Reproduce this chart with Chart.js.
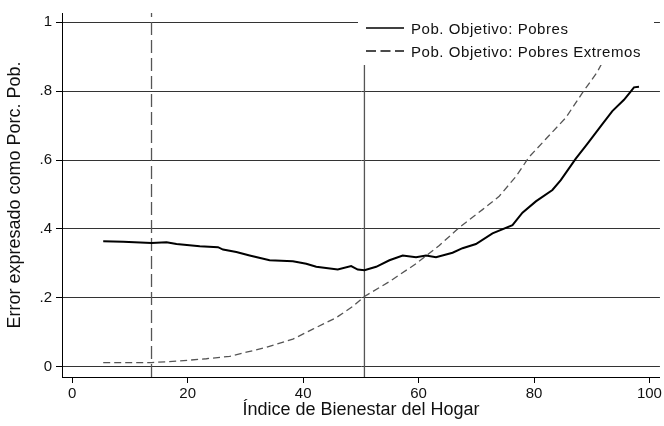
<!DOCTYPE html>
<html>
<head>
<meta charset="utf-8">
<script src="https://cdn.jsdelivr.net/npm/chart.js@4/dist/chart.umd.min.js"></script>
<style>
  html, body { margin: 0; padding: 0; background: #fff; }
  #wrap { width: 664px; height: 426px; }
</style>
</head>
<body>
<div id="wrap"><canvas id="c" width="664" height="426"></canvas></div>
<script>
// ---- Data ----
const seriesLabels = ['Pob. Objetivo: Pobres', 'Pob. Objetivo: Pobres Extremos'];
const xTitle = 'Índice de Bienestar del Hogar';
const yTitle = 'Error expresado como Porc. Pob.';

const pobresX = [5.36, 8.82, 13.73, 16.33, 18.06, 22.09, 25.25, 26.12, 28.43, 30.73, 34.19, 38.22, 40.54, 42.27, 46.00, 48.32, 49.46, 50.62, 52.65, 54.95, 57.25, 59.56, 61.29, 63.02, 65.89, 67.62, 69.94, 72.81, 76.27, 78.00, 80.32, 83.19, 84.64, 87.24, 89.24, 91.84, 93.57, 95.59, 96.75, 97.32, 98.19];
const pobresY = [0.364, 0.363, 0.359, 0.361, 0.356, 0.350, 0.347, 0.340, 0.333, 0.323, 0.309, 0.306, 0.299, 0.290, 0.282, 0.292, 0.282, 0.280, 0.290, 0.309, 0.323, 0.318, 0.323, 0.318, 0.331, 0.344, 0.356, 0.387, 0.411, 0.447, 0.480, 0.513, 0.542, 0.604, 0.647, 0.704, 0.742, 0.775, 0.799, 0.811, 0.813];

const extremosX = [5.36, 13.73, 18.06, 23.24, 27.27, 30.16, 33.62, 38.22, 41.68, 45.71, 48.60, 50.62, 54.95, 59.56, 63.59, 67.05, 71.08, 73.97, 76.86, 79.16, 82.05, 85.51, 88.38, 90.97, 93.0, 95.0];
const extremosY = [0.012, 0.012, 0.016, 0.023, 0.030, 0.042, 0.056, 0.080, 0.109, 0.142, 0.175, 0.204, 0.247, 0.299, 0.352, 0.404, 0.456, 0.495, 0.552, 0.609, 0.661, 0.723, 0.795, 0.856, 0.92, 0.98];

const refDashedX = [13.73];   // vertical dashed reference line
const refSolidX = [50.62];    // vertical solid reference line

const xTicks = [0, 20, 40, 60, 80, 100];
const yTicks = [0, 0.2, 0.4, 0.6, 0.8, 1];
const yTickLabels = ['0', '.2', '.4', '.6', '.8', '1'];

const xMin = -1.78, xMax = 101.82;
const yMin = -0.030, yMax = 1.027;

// ---- Build ----
const zip = (xs, ys) => xs.map((x, i) => ({ x: x, y: ys[i] }));
const vline = (x) => [{ x: x, y: yMin }, { x: x, y: yMax }];

const FONT = "'Liberation Sans', Arial, Helvetica, sans-serif";

const legendBox = {
  id: 'legendBox',
  afterDatasetsDraw(chart) {
    const ctx = chart.ctx;
    ctx.save();
    ctx.fillStyle = '#fff';
    ctx.fillRect(358, 11, 296, 54);
    const items = chart.data.datasets.filter(d => d.inLegend);
    items.forEach((d, i) => {
      const y = 28 + i * 23;
      ctx.beginPath();
      ctx.strokeStyle = d.legendColor;
      ctx.lineWidth = 1.4;
      ctx.setLineDash(d.legendDash || []);
      ctx.moveTo(366, y);
      ctx.lineTo(404, y);
      ctx.stroke();
      ctx.setLineDash([]);
      ctx.fillStyle = '#111';
      ctx.font = '15px ' + FONT;
      if ('letterSpacing' in ctx) ctx.letterSpacing = '0.55px';
      ctx.textAlign = 'left';
      ctx.textBaseline = 'alphabetic';
      ctx.fillText(d.label, 411, y + 6);
    });
    ctx.restore();
  }
};

new Chart(document.getElementById('c'), {
  type: 'line',
  data: {
    datasets: [
      {
        label: seriesLabels[0], inLegend: true, legendColor: '#000', legendDash: [],
        data: zip(pobresX, pobresY),
        borderColor: '#000', borderWidth: 2, pointRadius: 0, tension: 0, fill: false
      },
      {
        label: seriesLabels[1], inLegend: true, legendColor: '#111', legendDash: [10, 4.5],
        data: zip(extremosX, extremosY),
        borderColor: '#555', borderWidth: 1.3, borderDash: [7, 4], pointRadius: 0, tension: 0, fill: false
      },
      {
        label: 'refDashed', data: vline(refDashedX[0]),
        borderColor: '#555', borderWidth: 1.3, borderDash: [13, 5], pointRadius: 0, fill: false
      },
      {
        label: 'refSolid', data: vline(refSolidX[0]),
        borderColor: '#555', borderWidth: 1.3, pointRadius: 0, fill: false
      }
    ]
  },
  options: {
    responsive: false,
    animation: false,
    layout: { padding: { top: 7, right: 3, left: 0, bottom: 0 } },
    plugins: { legend: { display: false }, tooltip: { enabled: false } },
    scales: {
      x: {
        type: 'linear', min: xMin, max: xMax,
        afterBuildTicks: (s) => { s.ticks = xTicks.map(v => ({ value: v })); },
        afterFit: (s) => { s.height = 49; },
        grid: { drawOnChartArea: false, drawTicks: true, tickLength: 6, tickColor: '#000', tickWidth: 1 },
        border: { display: true, color: '#000', width: 1 },
        ticks: { color: '#111', font: { family: FONT, size: 15 }, padding: 2, maxRotation: 0, autoSkip: false,
                 callback: (v) => String(v) },
        title: { display: true, text: xTitle, color: '#111', font: { family: FONT, size: 18 }, padding: { top: 0, bottom: 5 } }
      },
      y: {
        type: 'linear', min: yMin, max: yMax,
        afterBuildTicks: (s) => { s.ticks = yTicks.map(v => ({ value: v })); },
        afterFit: (s) => { s.width = 62; },
        grid: { drawOnChartArea: true, color: '#333', lineWidth: 1, drawTicks: true, tickLength: 6, tickColor: '#000' },
        border: { display: true, color: '#000', width: 1 },
        ticks: { color: '#111', font: { family: FONT, size: 15 }, padding: 4, autoSkip: false,
                 callback: (v) => { const i = yTicks.indexOf(v); return i >= 0 ? yTickLabels[i] : ''; } },
        title: { display: true, text: yTitle, color: '#111', font: { family: FONT, size: 18 }, padding: { top: 4, bottom: 0 } }
      }
    }
  },
  plugins: [legendBox]
});
</script>
</body>
</html>
